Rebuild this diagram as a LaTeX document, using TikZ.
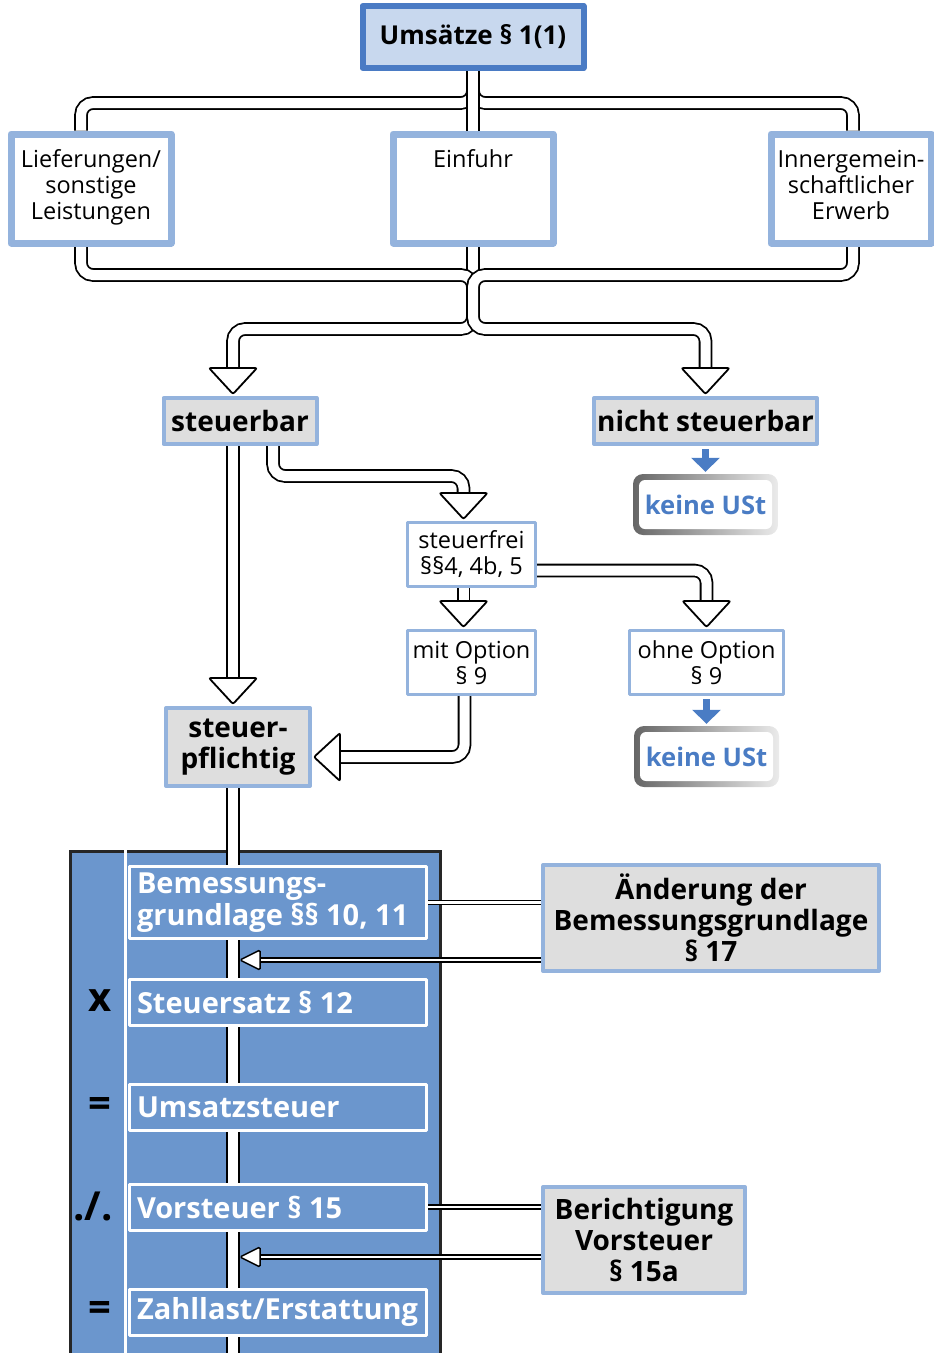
\documentclass[tikz,border=0pt]{standalone}
\usepackage{fontspec}
\setmainfont{Open Sans}
\usetikzlibrary{arrows.meta,calc,backgrounds}

\definecolor{frameblue}{RGB}{148,179,221}
\definecolor{darkblue}{RGB}{74,123,196}
\definecolor{lightfill}{RGB}{200,216,238}
\definecolor{grayfill}{RGB}{222,222,222}
\definecolor{panelblue}{RGB}{107,150,205}
\definecolor{ustblue}{RGB}{74,124,196}

\tikzset{
    tube/.style={draw=black, line width=1.8pt, double=white, double distance=10pt, rounded corners=12pt},
    thintube/.style={draw=black, line width=1.5pt, double=white, double distance=2.6pt},
    bighead/.pic={\draw[fill=white, line width=1.8pt, rounded corners=2pt] (0,0) -- (-26pt,24pt) -- (-26pt,-24pt) -- cycle;},
    smallhead/.pic={\draw[fill=white, line width=1.5pt, rounded corners=1.5pt] (0,0) -- (-20pt,10pt) -- (-20pt,-10pt) -- cycle;},
    topbox/.style={draw=darkblue, line width=6pt, fill=lightfill, minimum width=221pt, minimum height=62pt, inner sep=0pt, font=\bfseries\fontsize{26}{30}\selectfont},
    srcbox/.style={draw=frameblue, line width=7pt, fill=white, anchor=north, minimum width=160pt, inner sep=0pt, text height=33.5pt, text depth=75.5pt, align=center, font=\fontsize{23.5}{26}\selectfont},
    threelines/.style={text height=85.5pt, text depth=23.5pt},
    graybox/.style={draw=frameblue, line width=4pt, fill=grayfill, minimum height=46pt, inner sep=0pt, align=center, font=\bfseries\fontsize{28}{31}\selectfont},
    whitebox/.style={draw=frameblue, line width=3pt, fill=white, minimum width=128pt, minimum height=64pt, inner sep=0pt, align=center, font=\fontsize{23.5}{26}\selectfont},
    noust/.style={minimum width=145pt, minimum height=61pt, inner sep=0pt, rounded corners=10pt, left color=black!60, right color=black!8, text=ustblue, font=\bfseries\fontsize{25.6}{30}\selectfont,
        path picture={\fill[white, rounded corners=6pt] ([shift={(6pt,-6pt)}]path picture bounding box.north west) rectangle ([shift={(-6pt,6pt)}]path picture bounding box.south east);}},
    rowbox/.style={anchor=west, draw=white, line width=3pt, fill=panelblue, text width=281pt, inner xsep=8pt, inner ysep=0pt, minimum height=46pt, align=flush left, text=white, font=\bfseries\fontsize{29}{32}\selectfont},
    opsign/.style={inner sep=0pt, font=\bfseries\fontsize{40}{40}\selectfont},
    panelbox/.style={anchor=north west, draw=black!85, line width=3pt, fill=panelblue, minimum width=370pt, minimum height=520pt, inner sep=0pt},
    bluearrow/.style={draw=ustblue, line width=7pt, -{Triangle[width=28pt,length=14pt]}, shorten <=3pt, shorten >=2pt},
}

\begin{document}
\begin{tikzpicture}[x=1pt, y=-1pt, line join=round]
    \useasboundingbox (0,0) rectangle (934,1353);

    \node[topbox] (U_1) at (473,37) {Umsätze § 1(1)};

    \begin{scope}[every node/.style={srcbox}]
        \node[threelines] (Q_1) at (91,130.5) {Lieferungen/\\sonstige\\Leistungen};
        \node (Q_2) at (473,130.5) {Einfuhr};
        \node[threelines] (Q_3) at (851,130.5) {Innergemein-\\schaftlicher\\Erwerb};
    \end{scope}

    \begin{scope}[every node/.style={graybox}]
        \node[minimum width=153pt] (S_1) at (240,421) {steuerbar};
        \node[minimum width=223pt] (S_2) at (705.5,421) {nicht steuerbar};
        \node[minimum width=144pt, minimum height=78pt] (P_1) at (238,747) {steuer-\\pflichtig};
    \end{scope}

    \begin{scope}[every node/.style={whitebox}]
        \node (F_1) at (471.5,554.5) {steuerfrei\\§§4, 4b, 5};
        \node (O_1) at (471.5,662.5) {mit Option\\§ 9};
        \node[minimum width=154pt] (O_2) at (706.5,662.5) {ohne Option\\§ 9};
    \end{scope}

    \node[noust] (K_1) at (705.5,504.5) {keine USt};
    \node[noust] (K_2) at (706.5,756.5) {keine USt};

    \draw[bluearrow] (S_2.south) -- (K_1.north);
    \draw[bluearrow] (O_2.south) -- (K_2.north);

    \begin{scope}[every node/.style={rowbox}]
        \node[minimum height=72pt] (R_1) at (127.5,902.5) {Bemessungs-\\grundlage §§ 10, 11};
        \node (R_2) at (127.5,1002) {Steuersatz § 12};
        \node (R_3) at (127.5,1107) {Umsatzsteuer};
        \node (R_4) at (127.5,1207) {Vorsteuer § 15};
        \node (R_5) at (127.5,1312) {Zahllast/Erstattung};
    \end{scope}

    \begin{scope}[every node/.style={opsign}]
        \node (X_1) at (100,1001) {x};
        \node (X_2) at (100,1107) {=};
        \node (X_3) at (93,1206) {./.};
        \node (X_4) at (100,1311) {=};
    \end{scope}

    \begin{scope}[every node/.style={graybox}]
        \node[minimum width=336pt, minimum height=106pt] (B_1) at (711,918) {Änderung der\\Bemessungsgrundlage\\§ 17};
        \node[minimum width=202pt, minimum height=106pt] (B_2) at (644,1240) {Berichtigung\\Vorsteuer\\§ 15a};
    \end{scope}

    \begin{scope}[on background layer]
        \node[panelbox] (T_1) at (68.5,849.5) {};
        \draw[white, line width=3pt] (125.5,849.5) -- (125.5,1370);
        \coordinate (P_end) at (233,1370);

        % from Umsaetze to the three kinds
        \draw[tube] (U_1.south) -- ++(0,32) -| ([xshift=-10pt]Q_1.north);
        \draw[tube] (U_1.south) -- ++(0,32) -| ([xshift=2pt]Q_3.north);
        \draw[tube] (U_1.south) -- (Q_2.north);

        % merge and split
        \draw[tube] (Q_2.south) -- ++(0,32);
        \draw[tube] ([xshift=-10pt]Q_1.south) |- (473,275) -- (473,329) -| ($(S_1.north)+(-7,-28)$);
        \draw[tube] ([xshift=2pt]Q_3.south) |- (473,275) -- (473,329) -| ($(S_2.north)+(0,-28)$);
        \pic[rotate=-90] at ($(S_1.north)+(-7,-2)$) {bighead};
        \pic[rotate=-90] at ($(S_2.north)+(0,-2)$) {bighead};

        % steuerbar
        \draw[tube] ([xshift=-7pt]S_1.south) -- ($(P_1.north)+(-5,-28)$);
        \pic[rotate=-90] at ($(P_1.north)+(-5,-2)$) {bighead};
        \draw[tube] ([xshift=33pt]S_1.south) -- ++(0,30) -| ($(F_1.north)+(-8,-28)$);
        \pic[rotate=-90] at ($(F_1.north)+(-8,-2)$) {bighead};

        % steuerfrei
        \draw[tube] ([xshift=-8pt]F_1.south) -- ($(O_1.north)+(-8,-28)$);
        \pic[rotate=-90] at ($(O_1.north)+(-8,-2)$) {bighead};
        \draw[tube] ($(F_1.east)+(0,16)$) -| ($(O_2.north)+(0,-28)$);
        \pic[rotate=-90] at ($(O_2.north)+(0,-2)$) {bighead};
        \draw[tube] ([xshift=-7pt]O_1.south) |- ($(P_1.east)+(28,10)$);
        \pic[rotate=180] at ($(P_1.east)+(2,10)$) {bighead};

        % steuerpflichtig down
        \draw[tube] ([xshift=-5pt]P_1.south) -- (P_end);

        % corrections
        \draw[thintube] (R_1.east) -- (R_1.east -| B_1.west);
        \draw[thintube] ($(B_1.west)+(0,42)$) -- ($(B_1.west)+(-281,42)$);
        \pic[rotate=180] at ($(B_1.west)+(-301,42)$) {smallhead};
        \draw[thintube] (R_4.east) -- (R_4.east -| B_2.west);
        \draw[thintube] ($(B_2.west)+(0,17)$) -- ($(B_2.west)+(-281,17)$);
        \pic[rotate=180] at ($(B_2.west)+(-301,17)$) {smallhead};
    \end{scope}
\end{tikzpicture}
\end{document}
